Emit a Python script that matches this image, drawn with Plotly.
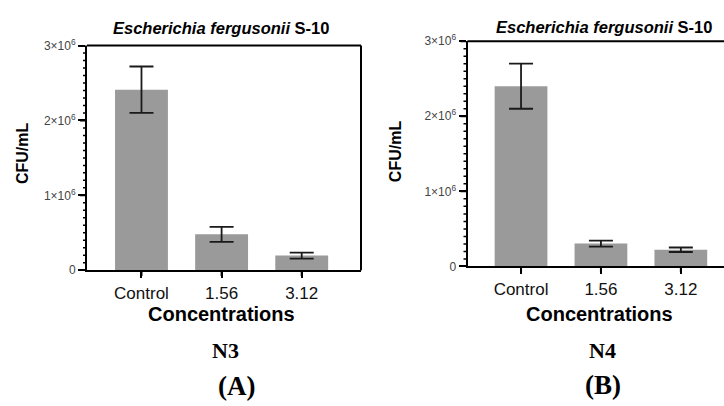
import plotly.graph_objects as go

categories = ["Control", "1.56", "3.12"]
n3_values = [2.41e6, 0.48e6, 0.196e6]
n3_errors = [0.31e6, 0.10e6, 0.04e6]
n4_values = [2.40e6, 0.305e6, 0.222e6]
n4_errors = [0.30e6, 0.04e6, 0.03e6]
y_tick_alias = {"1000000": "1×10<sup>6</sup>", "2000000": "2×10<sup>6</sup>", "3000000": "3×10<sup>6</sup>"}
y_major_ticks = [0, 1e6, 2e6, 3e6]
y_minor_step = 1e5
panel_titles = ["<b><i>Escherichia fergusonii</i> S-10</b>", "<b><i>Escherichia fergusonii</i> S-10</b>"]
panel_names = ["N3", "N4"]
panel_letters = ["(A)", "(B)"]

W, H = 724, 406
BAR_COLOR = "#9a9a9a"
SANS = "Liberation Sans, Arial, sans-serif"
SERIF = "Liberation Serif, Times New Roman, serif"

fig = go.Figure()
xpos = [0, 1, 2]
for i, (vals, errs) in enumerate([(n3_values, n3_errors), (n4_values, n4_errors)]):
    fig.add_trace(go.Bar(
        x=xpos, y=vals, width=0.66,
        marker=dict(color=BAR_COLOR, line=dict(width=0)),
        error_y=dict(type="data", array=errs, visible=True, color="#1a1a1a",
                     thickness=1.8, width=12),
        xaxis="x" if i == 0 else "x2", yaxis="y" if i == 0 else "y2",
        showlegend=False,
    ))

def yp(px):
    return 1 - px / H

def xp(px):
    return px / W

common_x = dict(
    tickmode="array", tickvals=xpos, ticktext=categories,
    ticks="outside", ticklen=6, tickwidth=2, tickcolor="black",
    showline=True, linewidth=2, linecolor="black",
    gridcolor="rgba(0,0,0,0)", zerolinecolor="rgba(0,0,0,0)",
    tickfont=dict(family=SANS, size=17, color="#111"),
)
common_y = dict(
    range=[0, 3e6], tickmode="linear", tick0=0, dtick=1e6, tickformat="d",
    labelalias=y_tick_alias,
    ticks="outside", ticklen=7, tickwidth=2, tickcolor="black",
    showline=True, linewidth=2, linecolor="black",
    gridcolor="rgba(0,0,0,0)", zerolinecolor="rgba(0,0,0,0)",
    tickfont=dict(family=SANS, size=12, color="#444"),
)

panels = [
    dict(xd=[xp(87), xp(361)], yd=[yp(272), yp(38)], xr=[-0.68, 2.74]),
    dict(xd=[xp(467.5), 1.0], yd=[yp(268), yp(33.5)], xr=[-0.67, 2.54]),
]

fig.update_layout(
    width=W, height=H, margin=dict(l=0, r=0, t=0, b=0),
    paper_bgcolor="white", plot_bgcolor="white",
    xaxis=dict(domain=panels[0]["xd"], range=panels[0]["xr"], anchor="y", **common_x),
    yaxis=dict(domain=panels[0]["yd"], anchor="x", **common_y),
    xaxis2=dict(domain=panels[1]["xd"], range=panels[1]["xr"], anchor="y2", **common_x),
    yaxis2=dict(domain=panels[1]["yd"], anchor="x2", **common_y),
    bargap=0.2,
)

# frame lines (top and right of panel A, top of panel B)
frame = [("x domain", "y domain", 0, 1, 1, 1), ("x domain", "y domain", 1, 1, 0, 1),
         ("x2 domain", "y2 domain", 0, 1, 1, 1)]
for xr, yr, x0, x1, y0, y1 in frame:
    fig.add_shape(type="line", xref=xr, yref=yr, x0=x0, x1=x1, y0=y0, y1=y1,
                  line=dict(color="black", width=2), layer="above")

# explicit tick marks (major + minor) drawn through the axes' own scales
for k, (xa, ya) in enumerate([("x", "y"), ("x2", "y2")]):
    pw = (panels[k]["xd"][1] - panels[k]["xd"][0]) * W
    ph = (panels[k]["yd"][1] - panels[k]["yd"][0]) * H
    for xv in xpos:
        fig.add_shape(type="line", xref=xa, yref=ya + " domain", x0=xv, x1=xv,
                      y0=0, y1=-6 / ph, line=dict(color="black", width=2))
    n_minor = int(round(3e6 / y_minor_step))
    for j in range(n_minor + 1):
        yv = j * y_minor_step
        major = yv in y_major_ticks
        L = 7 if major else 4
        fig.add_shape(type="line", xref=xa + " domain", yref=ya, x0=0, x1=-L / pw,
                      y0=yv, y1=yv, line=dict(color="black", width=2 if major else 1.5))

ann = []
layout_pos = [
    dict(title=(221, 20), ylab=(22, 150), conc=(221, 317), name=(226, 355), letter=(236, 392)),
    dict(title=(604, 19), ylab=(395, 148), conc=(599, 317), name=(602, 355), letter=(603, 391)),
]
for i, p in enumerate(layout_pos):
    ann.append(dict(text=panel_titles[i], x=xp(p["title"][0]), y=yp(p["title"][1]),
                    font=dict(family=SANS, size=16.5, color="black")))
    ann.append(dict(text="<b>CFU/mL</b>", x=xp(p["ylab"][0]), y=yp(p["ylab"][1]), textangle=-90,
                    font=dict(family=SANS, size=16, color="black")))
    ann.append(dict(text="<b>Concentrations</b>", x=xp(p["conc"][0]), y=yp(p["conc"][1]),
                    font=dict(family=SANS, size=20, color="black")))
    ann.append(dict(text="<b>" + panel_names[i] + "</b>", x=xp(p["name"][0]), y=yp(p["name"][1]),
                    font=dict(family=SERIF, size=22, color="black")))
    ann.append(dict(text="<b>" + panel_letters[i] + "</b>", x=xp(p["letter"][0]), y=yp(p["letter"][1]),
                    font=dict(family=SERIF, size=27, color="black")))
for a in ann:
    a.update(xref="paper", yref="paper", showarrow=False, xanchor="center", yanchor="middle")
fig.update_layout(annotations=ann)

fig.write_html("out.html")
